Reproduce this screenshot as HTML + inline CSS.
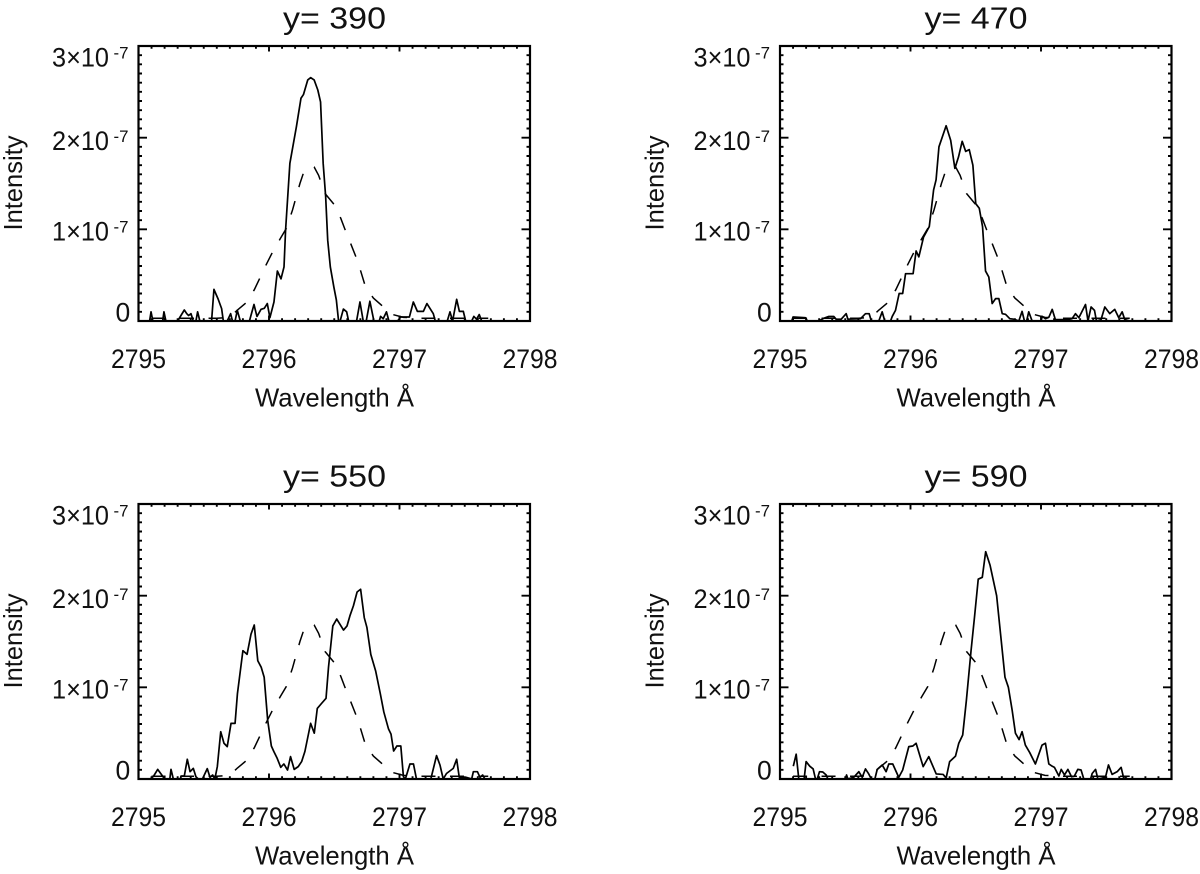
<!DOCTYPE html>
<html lang="en">
<head>
<meta charset="utf-8">
<title>Intensity profiles</title>
<style>
html,body{margin:0;padding:0;background:#fff;}
svg{display:block;}
text{font-family:"Liberation Sans",Arial,sans-serif;fill:#111;}
</style>
</head>
<body>
<svg id="chart" xmlns="http://www.w3.org/2000/svg" width="1200" height="874" viewBox="0 0 1200 874"></svg>
<script>
const xTicks = [2795, 2796, 2797, 2798];
const yTicks = [0, 1, 2, 3];
const yTickLabels = ["0", "1×10", "2×10", "3×10"];

const refWave = [2795.10,2795.20,2795.30,2795.40,2795.50,2795.60,2795.70,2795.758,2795.826,2795.887,2795.977,2796.03,2796.087,2796.133,2796.18,2796.237,2796.27,2796.305,2796.346,2796.38,2796.43,2796.50,2796.55,2796.59,2796.63,2796.68,2796.74,2796.80,2796.88,2796.95,2797.03,2797.15,2797.30,2797.45,2797.68];
const refIntensity = [0.03,0.03,0.03,0.03,0.03,0.03,0.04,0.12,0.20,0.34,0.61,0.76,0.90,1.01,1.21,1.50,1.64,1.68,1.68,1.59,1.39,1.27,1.12,0.97,0.83,0.65,0.37,0.25,0.15,0.07,0.04,0.03,0.03,0.03,0.03];

const wave390 = [2795.085,2795.096,2795.11,2795.185,2795.195,2795.21,2795.30,2795.351,2795.37,2795.384,2795.402,2795.42,2795.44,2795.453,2795.47,2795.56,2795.578,2795.61,2795.637,2795.65,2795.68,2795.706,2795.72,2795.74,2795.757,2795.78,2795.85,2795.885,2795.908,2795.939,2795.964,2795.987,2796.007,2796.038,2796.064,2796.092,2796.115,2796.127,2796.16,2796.21,2796.245,2796.264,2796.297,2796.319,2796.346,2796.374,2796.395,2796.415,2796.434,2796.45,2796.47,2796.497,2796.516,2796.533,2796.545,2796.57,2796.595,2796.61,2796.671,2796.697,2796.722,2796.745,2796.773,2796.804,2796.845,2796.855,2796.875,2796.9,2796.919,2796.985,2797.009,2797.076,2797.106,2797.137,2797.183,2797.21,2797.259,2797.274,2797.366,2797.387,2797.407,2797.438,2797.459,2797.489,2797.507,2797.553,2797.57,2797.59,2797.611,2797.63];
const intensity390 = [0,0.10,0,0,0.10,0,0,0.12,0.08,0.06,0.08,0,0,0.10,0,0,0.345,0.24,0.135,0,0,0.08,0,0,0.116,0,0,0.18,0.05,0.127,0.138,0.19,0.036,0.207,0.545,0.46,0.59,0.99,1.72,2.12,2.43,2.47,2.63,2.655,2.63,2.52,2.39,1.72,1.36,0.88,0.59,0.37,0.23,0,0,0.13,0.10,0,0,0.207,0,0,0.215,0,0,0.05,0.025,0.10,0,0,0.044,0.044,0.207,0.105,0.105,0.19,0.08,0,0,0.10,0,0.236,0.105,0.105,0,0,0.05,0.02,0.07,0];

const wave470 = [2795.09,2795.10,2795.195,2795.21,2795.297,2795.335,2795.374,2795.412,2795.43,2795.469,2795.507,2795.52,2795.617,2795.655,2795.683,2795.70,2795.757,2795.783,2795.803,2795.847,2795.86,2795.885,2795.913,2795.94,2795.962,2796.02,2796.043,2796.064,2796.10,2796.144,2796.177,2796.196,2796.218,2796.273,2796.308,2796.34,2796.368,2796.396,2796.423,2796.45,2796.478,2796.5,2796.527,2796.552,2796.575,2796.6,2796.626,2796.652,2796.677,2796.703,2796.728,2796.761,2796.792,2796.83,2796.855,2796.873,2796.89,2796.906,2796.932,2797.0,2797.01,2797.034,2797.06,2797.086,2797.11,2797.137,2797.2,2797.238,2797.264,2797.29,2797.341,2797.36,2797.384,2797.41,2797.425,2797.46,2797.489,2797.527,2797.565,2797.596,2797.622,2797.642,2797.68];
const intensity470 = [0,0.044,0.036,0,0,0.03,0.05,0.05,0.02,0.02,0.08,0.02,0.025,0.08,0.08,0,0,0.10,0,0,0.05,0.116,0.30,0.30,0.516,0.516,0.764,0.70,0.916,1.03,1.43,1.54,1.90,2.13,1.97,1.665,1.79,1.96,1.85,1.87,1.70,1.28,1.23,1.03,0.545,0.48,0.19,0.244,0.244,0.08,0.073,0.025,0.02,0,0.105,0,0,0.10,0,0,0.05,0.025,0.04,0.127,0.015,0.015,0.015,0.025,0.08,0.036,0.18,0,0.153,0.116,0,0.015,0.153,0.08,0.127,0.036,0.10,0.015,0];

const wave550 = [2795.09,2795.115,2795.147,2795.17,2795.19,2795.205,2795.24,2795.249,2795.267,2795.318,2795.33,2795.351,2795.374,2795.395,2795.42,2795.44,2795.458,2795.49,2795.527,2795.548,2795.568,2795.585,2795.604,2795.63,2795.655,2795.68,2795.709,2795.74,2795.758,2795.8,2795.832,2795.862,2795.887,2795.914,2795.94,2795.963,2795.99,2796.018,2796.037,2796.063,2796.09,2796.114,2796.142,2796.165,2796.193,2796.224,2796.25,2796.275,2796.319,2796.347,2796.37,2796.403,2796.437,2796.456,2796.489,2796.519,2796.571,2796.598,2796.62,2796.647,2796.675,2796.702,2796.73,2796.75,2796.78,2796.817,2796.853,2796.88,2796.916,2796.935,2796.955,2796.98,2797.01,2797.03,2797.045,2797.08,2797.107,2797.13,2797.24,2797.284,2797.31,2797.335,2797.36,2797.412,2797.438,2797.458,2797.51,2797.553,2797.566,2797.597,2797.617,2797.637,2797.655];
const intensity550 = [0,0.03,0.105,0.06,0.02,0,0,0.105,0,0,0.033,0.033,0.215,0.08,0.116,0.025,0,0,0.113,0.018,0.044,0,0.135,0.516,0.39,0.353,0.607,0.607,0.93,1.40,1.36,1.58,1.68,1.29,1.22,1.11,0.64,0.36,0.30,0.225,0.127,0.164,0.098,0.244,0.105,0.135,0.19,0.30,0.607,0.50,0.77,0.825,0.88,1.22,1.67,1.745,1.625,1.67,1.78,1.89,2.04,2.07,1.76,1.655,1.36,1.18,0.93,0.73,0.545,0.49,0.305,0.36,0.36,0.025,0,0.164,0.164,0,0,0.255,0.153,0,0.06,0.116,0.215,0.018,0.018,0,0.08,0.08,0.018,0.044,0];

const wave590 = [2795.102,2795.124,2795.144,2795.185,2795.2,2795.228,2795.254,2795.272,2795.285,2795.303,2795.328,2795.354,2795.367,2795.50,2795.51,2795.52,2795.565,2795.604,2795.63,2795.655,2795.68,2795.70,2795.727,2795.745,2795.783,2795.813,2795.834,2795.864,2795.91,2795.94,2795.987,2796.018,2796.043,2796.097,2796.14,2796.197,2796.25,2796.273,2796.30,2796.345,2796.37,2796.4,2796.428,2796.464,2796.49,2796.519,2796.55,2796.576,2796.61,2796.66,2796.724,2796.75,2796.779,2796.804,2796.832,2796.855,2796.88,2796.914,2796.957,2797.008,2797.034,2797.06,2797.085,2797.103,2797.137,2797.155,2797.18,2797.206,2797.234,2797.255,2797.282,2797.307,2797.328,2797.38,2797.392,2797.418,2797.436,2797.494,2797.517,2797.545,2797.584,2797.614,2797.635,2797.66];
const intensity590 = [0.14,0.27,0,0,0.19,0.14,0.11,0,0,0.08,0.076,0.044,0,0,0.044,0,0.018,0.08,0.018,0.11,0.055,0,0,0.105,0.153,0.08,0.164,0.164,0.018,0.098,0.353,0.36,0.39,0.135,0.244,0.055,0.05,0.01,0.19,0.25,0.39,0.48,0.855,1.40,1.76,2.18,2.2,2.48,2.33,2.0,1.11,1.0,0.75,0.5,0.43,0.516,0.37,0.287,0.164,0.37,0.39,0.164,0.14,0.127,0.033,0.105,0.044,0.105,0.025,0.03,0.105,0.098,0,0,0.06,0.105,0,0.018,0.153,0.05,0.08,0.127,0,0.03];

const panelTitles = ["y= 390", "y= 470", "y= 550", "y= 590"];
const panelWaves = [wave390, wave470, wave550, wave590];
const panelIntensities = [intensity390, intensity470, intensity550, intensity590];

const xMin = 2795, xMax = 2798, yMin = 0, yMax = 3;
const boxW = 391.5, boxH = 275;
const svgNS = "http://www.w3.org/2000/svg";
const chart = document.getElementById("chart");

function make(tag, attrs, parent) {
  const el = document.createElementNS(svgNS, tag);
  for (const k in attrs) el.setAttribute(k, attrs[k]);
  parent.appendChild(el);
  return el;
}
function linePath(xs, ys, sx, sy) {
  return xs.map((x, i) => (i ? "L" : "M") + sx(x).toFixed(2) + " " + sy(ys[i]).toFixed(2)).join("");
}

function drawPanel(index, left, top) {
  const key = panelTitles[index].replace(/\D/g, "");
  const sx = v => left + (v - xMin) / (xMax - xMin) * boxW;
  const sy = v => top + boxH - (v - yMin) / (yMax - yMin) * boxH;

  const g = make("g", {}, chart);
  
  

  const clip = make("clipPath", { id: "clip" + index }, g);
  make("rect", { x: left, y: top, width: boxW, height: boxH }, clip);

  const title = make("text", { x: left + 144.5, y: top - 17.5, "font-size": 31, textLength: 103, lengthAdjust: "spacingAndGlyphs" }, g);
  title.textContent = panelTitles[index];
  
  

  const ref = make("path", { d: linePath(refWave, refIntensity, sx, sy), fill: "none", stroke: "#000", "stroke-width": 1.5, "stroke-dasharray": "14 14.5", "clip-path": "url(#clip" + index + ")" }, g);
  
  

  const obs = make("path", { d: linePath(panelWaves[index], panelIntensities[index], sx, sy), fill: "none", stroke: "#000", "stroke-width": 1.7, "stroke-linejoin": "round", "clip-path": "url(#clip" + index + ")" }, g);
  
  

  let tickPath = "";
  for (let i = 0; i <= 30; i++) {
    const wl = xMin + i * 0.1;
    const len = i % 10 === 0 ? 5.5 : 2.8;
    const px = sx(wl).toFixed(2);
    tickPath += "M" + px + " " + (top + boxH) + "v" + (-len) + "M" + px + " " + top + "v" + len;
  }
  for (let i = 0; i <= 30; i++) {
    const iv = yMin + i * 0.1;
    const len = i % 10 === 0 ? 8.5 : 3.5;
    const py = sy(iv).toFixed(2);
    tickPath += "M" + left + " " + py + "h" + len + "M" + (left + boxW) + " " + py + "h" + (-len);
  }
  const ticks = make("path", { d: tickPath, fill: "none", stroke: "#000", "stroke-width": 1.9 }, g);
  
  

  const box = make("rect", { x: left, y: top, width: boxW, height: boxH, fill: "none", stroke: "#000", "stroke-width": 2.2 }, g);
  
  

  xTicks.forEach(t => {
    const lab = make("text", { x: sx(t), y: top + boxH + 47, "font-size": 26.5, "text-anchor": "middle", textLength: 55, lengthAdjust: "spacingAndGlyphs" }, g);
    lab.textContent = String(t);
    
    
  });

  const labelBaselines = [275.5, 194.7, 104, 20.5];
  yTicks.forEach((t, i) => {
    const base = top + labelBaselines[i];
    if (t === 0) {
      const zero = make("text", { x: left - 23, y: base, "font-size": 26.5 }, g);
      zero.textContent = yTickLabels[i];
      
      
      return;
    }
    const lab = make("text", { x: left - 86.5, y: base, "font-size": 26.5, textLength: 57, lengthAdjust: "spacingAndGlyphs" }, g);
    lab.textContent = yTickLabels[i];
    
    
    const exp = make("text", { x: left - 25, y: base - 8, "font-size": 16.5, textLength: 15, lengthAdjust: "spacingAndGlyphs" }, g);
    exp.textContent = "-7";
    
    
  });

  const xLabel = make("text", { x: left + 116.5, y: top + boxH + 85.7, "font-size": 26, textLength: 159, lengthAdjust: "spacingAndGlyphs" }, g);
  xLabel.textContent = "Wavelength Å";
  
  

  const yx = left - 116.5, yy = top + 137;
  const yLabel = make("text", { x: yx, y: yy, "font-size": 26, "text-anchor": "middle", textLength: 95, lengthAdjust: "spacingAndGlyphs", transform: "rotate(-90 " + yx + " " + yy + ")" }, g);
  yLabel.textContent = "Intensity";
  
  
}

drawPanel(0, 138.5, 46);
drawPanel(1, 780, 46);
drawPanel(2, 138.5, 504);
drawPanel(3, 780, 504);
</script>
</body>
</html>
